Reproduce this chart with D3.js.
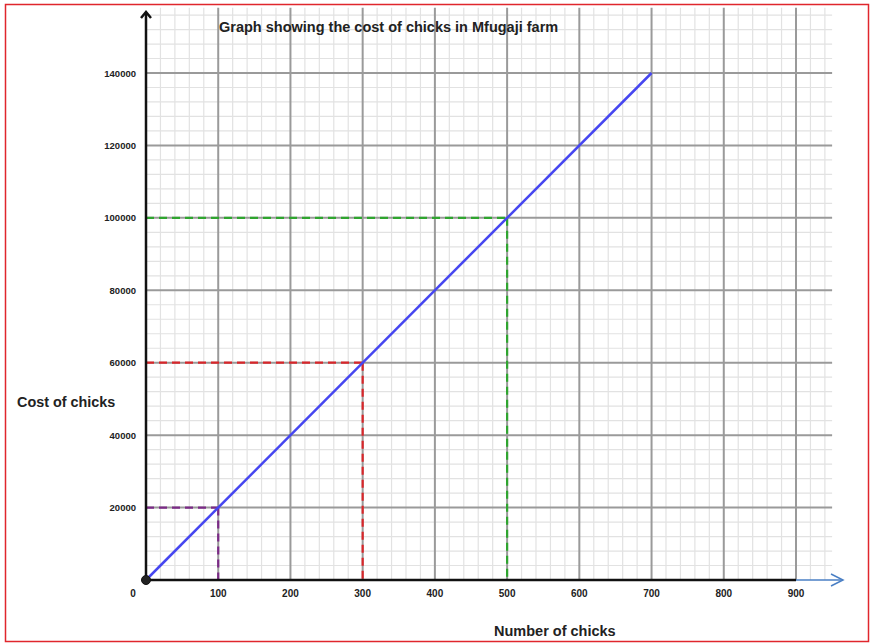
<!DOCTYPE html>
<html>
<head>
<meta charset="utf-8">
<script src="https://cdn.jsdelivr.net/npm/d3@7"></script>
<style>
  body { margin: 0; background: #fff; }
  text { font-family: "Liberation Sans", Arial, sans-serif; }
</style>
</head>
<body>
<div id="chart"></div>
<script>
'use strict';

// chart data ---------------------
const chicks     = [0, 700]          // number of chicks
const cost       = [0, 140000]       // cost of chicks
const xTicks     = [0, 100, 200, 300, 400, 500, 600, 700, 800, 900]
const yTicks     = [20000, 40000, 60000, 80000, 100000, 120000, 140000]
const guideX     = [100, 300, 500]
const guideY     = [20000, 60000, 100000]
const guideColor = ['#7b2a86', '#d8262a', '#2fa52f']

const width  = 871
const height = 644

var svg = d3.select('#chart').append('svg')
    .attr('width', width)
    .attr('height', height)

// scales
const x = d3.scaleLinear().domain([0, 900]).range([146, 796])
const y = d3.scaleLinear().domain([0, 140000]).range([580, 73])

// border
svg.append('rect')
    .attr('x', 5.5).attr('y', 4.5)
    .attr('width', 863).attr('height', 637)
    .attr('fill', 'none').attr('stroke', '#e0262c').attr('stroke-width', 1.5)

// GRID ---------------------
var grid = svg.append('g')
const xEnd = 950, yEnd = 158000

// minor lines
grid.selectAll('.vminor').data(d3.range(20, xEnd, 20).filter(d => d % 100 != 0))
    .enter().append('line')
    .attr('x1', d => x(d)).attr('x2', d => x(d))
    .attr('y1', y(0)).attr('y2', y(yEnd))
    .attr('stroke', '#e2e2e2').attr('stroke-width', 1.2)

grid.selectAll('.hminor').data(d3.range(4000, yEnd, 4000).filter(d => d % 20000 != 0))
    .enter().append('line')
    .attr('x1', x(0)).attr('x2', x(xEnd))
    .attr('y1', d => y(d)).attr('y2', d => y(d))
    .attr('stroke', '#e2e2e2').attr('stroke-width', 1.2)

// major lines
grid.selectAll('.vmajor').data(xTicks.slice(1))
    .enter().append('line')
    .attr('x1', d => x(d)).attr('x2', d => x(d))
    .attr('y1', y(0)).attr('y2', y(yEnd))
    .attr('stroke', '#9a9a9a').attr('stroke-width', 2)

grid.selectAll('.hmajor').data(yTicks)
    .enter().append('line')
    .attr('x1', x(0)).attr('x2', x(xEnd))
    .attr('y1', d => y(d)).attr('y2', d => y(d))
    .attr('stroke', '#9a9a9a').attr('stroke-width', 2)

// DASHED GUIDES ---------------------
var guides = svg.append('g')
guideX.forEach(function(gx, i) {
    guides.append('line')
        .attr('x1', x(0)).attr('y1', y(guideY[i]))
        .attr('x2', x(gx)).attr('y2', y(guideY[i]))
        .attr('stroke', guideColor[i]).attr('stroke-width', 2.2)
        .attr('stroke-dasharray', '8,5')
    guides.append('line')
        .attr('x1', x(gx)).attr('y1', y(guideY[i]))
        .attr('x2', x(gx)).attr('y2', y(0))
        .attr('stroke', guideColor[i]).attr('stroke-width', 2.2)
        .attr('stroke-dasharray', '8,5')
})

// AXES ---------------------
// x axis black part then blue arrow
svg.append('line')
    .attr('x1', x(0)).attr('y1', y(0)).attr('x2', x(900)).attr('y2', y(0))
    .attr('stroke', '#111').attr('stroke-width', 2.5)
svg.append('line')
    .attr('x1', x(900)).attr('y1', y(0)).attr('x2', 843).attr('y2', y(0))
    .attr('stroke', '#4a7fc4').attr('stroke-width', 1.5)
svg.append('path')
    .attr('d', 'M831,' + (y(0) - 6) + ' L843,' + y(0) + ' L831,' + (y(0) + 6))
    .attr('fill', 'none').attr('stroke', '#4a7fc4').attr('stroke-width', 1.5)

// y axis with arrow head
svg.append('line')
    .attr('x1', x(0)).attr('y1', y(0)).attr('x2', x(0)).attr('y2', 13)
    .attr('stroke', '#111').attr('stroke-width', 2.5)
svg.append('path')
    .attr('d', 'M' + (x(0) - 5) + ',18 L' + x(0) + ',12 L' + (x(0) + 5) + ',18')
    .attr('fill', 'none').attr('stroke', '#111').attr('stroke-width', 2.5)

// COST LINE ---------------------
svg.append('path')
    .datum(chicks.map((c, i) => [c, cost[i]]))
    .attr('d', d3.line().x(d => x(d[0])).y(d => y(d[1])))
    .attr('fill', 'none').attr('stroke', '#4646f0').attr('stroke-width', 2.5)

svg.append('circle')
    .attr('cx', x(0)).attr('cy', y(0)).attr('r', 4.5)
    .attr('fill', '#222').attr('stroke', '#111')

// TICK LABELS ---------------------
svg.append('g').selectAll('text').data(xTicks)
    .enter().append('text')
    .attr('x', d => x(d) + (d == 0 ? -13 : 0))
    .attr('y', 597)
    .attr('text-anchor', 'middle')
    .attr('font-size', 10).attr('font-weight', 'bold').attr('fill', '#222')
    .text(d => d)

svg.append('g').selectAll('text').data(yTicks)
    .enter().append('text')
    .attr('x', 136)
    .attr('y', d => y(d) + 3.5)
    .attr('text-anchor', 'end')
    .attr('font-size', 9.5).attr('font-weight', 'bold').attr('fill', '#222')
    .text(d => d)

// TITLES ---------------------
svg.append('text')
    .attr('x', 219).attr('y', 32)
    .attr('font-size', 14.5).attr('font-weight', 'bold').attr('fill', '#222')
    .text('Graph showing the cost of chicks in Mfugaji farm')

svg.append('text')
    .attr('x', 17).attr('y', 407)
    .attr('font-size', 14.4).attr('font-weight', 'bold').attr('fill', '#222')
    .text('Cost of chicks')

svg.append('text')
    .attr('x', 494).attr('y', 636)
    .attr('font-size', 14.5).attr('font-weight', 'bold').attr('fill', '#222')
    .text('Number of chicks')
</script>
</body>
</html>
